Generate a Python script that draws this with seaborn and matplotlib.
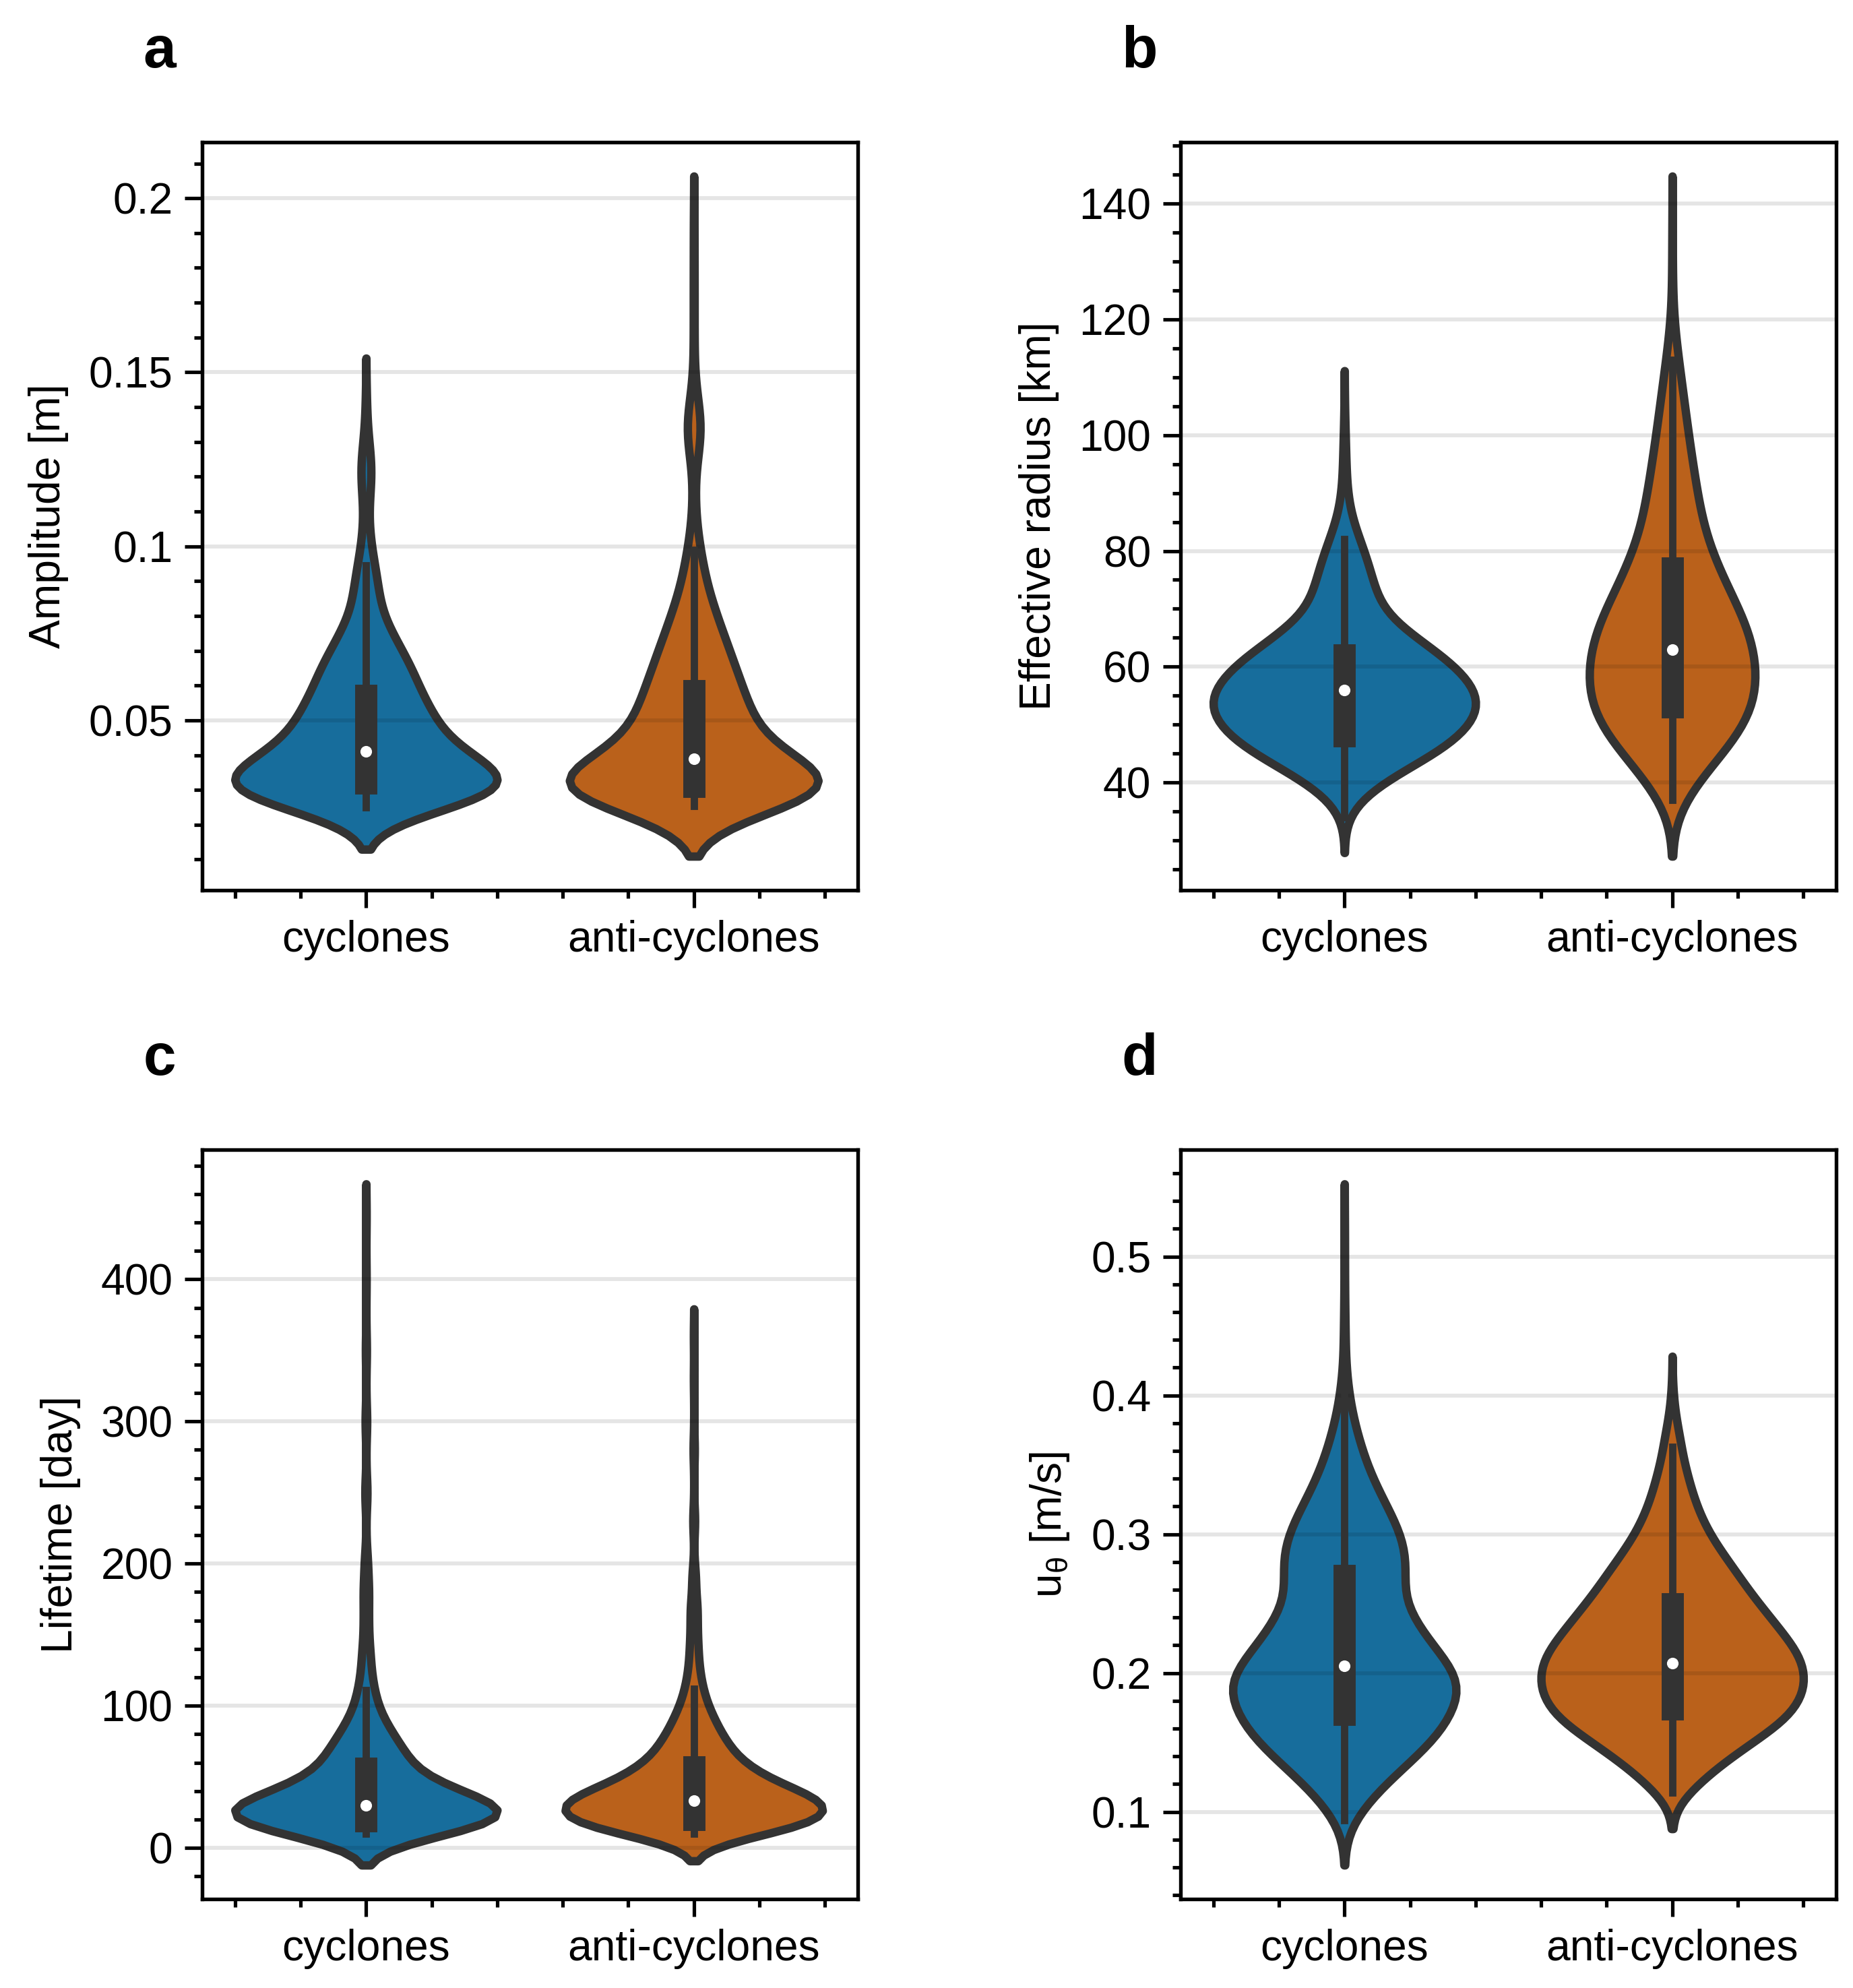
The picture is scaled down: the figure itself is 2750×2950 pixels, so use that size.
import numpy as np
import pandas as pd
import matplotlib
matplotlib.use("Agg")
import matplotlib.pyplot as plt
from matplotlib.ticker import MultipleLocator, FuncFormatter
import seaborn as sns

kinds = ["cyclones", "anti-cyclones"]
colors = ["#0173B2", "#D55E00"]

# amplitude [m]: binned values and number of eddies per bin
amp_cyc_values = [0.025, 0.0275, 0.030, 0.032, 0.034, 0.0365, 0.039, 0.041, 0.0435, 0.046, 0.0485, 0.051,
                  0.0535, 0.0555, 0.0572, 0.060, 0.0625, 0.065, 0.0675, 0.070, 0.0725, 0.075, 0.0775, 0.080,
                  0.085, 0.090, 0.0945, 0.100, 0.105, 0.110, 0.115, 0.120, 0.125, 0.130, 0.136, 0.142]
amp_cyc_counts = [60, 80, 85, 75, 68, 66, 55, 45, 42, 40, 38, 36,
                  33, 26, 20, 30, 28, 25, 22, 19, 16, 14, 12, 10,
                  15, 12, 9, 6, 3, 2, 4, 7, 6, 3, 1, 1]
amp_anti_values = [0.0253, 0.0275, 0.0295, 0.031, 0.033, 0.035, 0.037, 0.039, 0.0415, 0.044, 0.0465, 0.049,
                   0.0515, 0.054, 0.0565, 0.0585, 0.061, 0.0635, 0.066, 0.0685, 0.071, 0.0735, 0.076, 0.0785,
                   0.081, 0.0835, 0.086, 0.090, 0.095, 0.099, 0.105, 0.110, 0.115, 0.120, 0.127, 0.131,
                   0.135, 0.139, 0.143, 0.150, 0.160, 0.170, 0.180, 0.192]
amp_anti_counts = [65, 85, 90, 60, 70, 60, 50, 45, 40, 37, 35, 33,
                   31, 29, 28, 24, 25, 23, 22, 21, 19, 17, 15, 13,
                   12, 11, 9, 12, 9, 7, 3, 2, 1, 1, 4, 8,
                   9, 6, 2, 1, 1, 1, 1, 1]

# effective radius [km]
rad_cyc_values = [34, 36, 38, 40, 42, 44, 46, 48, 50, 52, 54, 56, 58, 60, 62, 64, 66, 68,
                  70, 72, 74, 76, 78, 80, 82, 84, 86, 88, 90, 92, 94, 96, 98, 100, 102, 105]
rad_cyc_counts = [5, 15, 35, 65, 100, 140, 180, 200, 222, 235, 238, 230, 215, 195, 170, 140, 108, 82,
                  64, 56, 52, 47, 41, 35, 27, 18, 12, 8, 5, 4, 3, 3, 2, 2, 1, 1]
rad_anti_values = [37, 39, 41, 43, 45, 47, 49, 51, 53, 55, 57, 59, 61, 63, 65, 67, 69, 71, 73, 75,
                   77, 79, 81, 83, 85, 87, 89, 91, 93, 95, 97, 99, 101, 103, 105, 107, 109, 111, 113, 115,
                   117, 120, 124, 128, 132, 135]
rad_anti_counts = [25, 35, 50, 70, 90, 110, 128, 140, 148, 152, 152, 152, 150, 147, 143, 135, 126, 113, 102, 92,
                   82, 73, 64, 58, 53, 49, 46, 43, 40, 37, 33, 30, 28, 25, 22, 20, 17, 14, 11, 9,
                   7, 3, 2, 1, 1, 1]

# lifetime [day]
life_cyc_values = [10, 14, 19, 24, 30, 35, 40, 45, 50, 56, 62, 68, 75, 82, 90, 100, 111, 125, 140,
                   160, 180, 200, 250, 300, 350, 400, 445]
life_cyc_counts = [70, 85, 100, 130, 125, 70, 60, 50, 40, 35, 38, 34, 31, 25, 22, 16, 14, 10, 9,
                   7, 8, 5, 4, 3, 2, 1, 1]
life_anti_values = [10, 15, 20, 26, 33, 38, 43, 48, 53, 57, 63, 70, 77, 85, 93, 102, 112, 125, 140,
                    155, 170, 190, 230, 280, 330, 360]
life_anti_counts = [65, 85, 105, 120, 130, 70, 60, 50, 40, 35, 38, 36, 31, 26, 22, 16, 14, 11, 9,
                    7, 8, 5, 3, 2, 1, 1]

# rotational velocity [m/s]
vel_cyc_values = [0.094, 0.10, 0.11, 0.12, 0.13, 0.14, 0.15, 0.16, 0.17, 0.18, 0.19, 0.197, 0.205, 0.213,
                  0.22, 0.23, 0.24, 0.25, 0.26, 0.27, 0.28, 0.29, 0.30, 0.31, 0.32, 0.33, 0.34, 0.35,
                  0.36, 0.37, 0.38, 0.39, 0.40, 0.41, 0.418, 0.44, 0.46, 0.48, 0.50, 0.52]
vel_cyc_counts = [8, 25, 48, 72, 102, 132, 162, 185, 198, 203, 204, 150, 160, 130,
                  130, 150, 122, 107, 98, 116, 117, 112, 104, 96, 74, 66, 50, 40,
                  33, 25, 18, 12, 8, 5, 3, 4, 2, 1, 1, 1]
vel_anti_values = [0.114, 0.12, 0.13, 0.14, 0.15, 0.16, 0.167, 0.174, 0.182, 0.19, 0.199, 0.207, 0.215,
                   0.223, 0.232, 0.241, 0.25, 0.26, 0.27, 0.28, 0.29, 0.30, 0.31, 0.32, 0.33, 0.34,
                   0.35, 0.363, 0.37, 0.38, 0.39, 0.402]
vel_anti_counts = [20, 40, 70, 105, 145, 153, 140, 161, 186, 204, 202, 186, 176,
                   177, 171, 153, 144, 135, 118, 100, 82, 65, 53, 43, 35, 28,
                   25, 17, 11, 8, 4, 2]

sns.set_theme(style="ticks")
plt.rcParams["font.family"] = ["Liberation Sans", "DejaVu Sans"]
plt.rcParams["axes.linewidth"] = 1.3
plt.rcParams["axes.edgecolor"] = "black"
plt.rcParams["text.color"] = "black"
plt.rcParams["axes.labelcolor"] = "black"
plt.rcParams["xtick.color"] = "black"
plt.rcParams["ytick.color"] = "black"

LW = 3.0
FS = 15.4


def make_df(cyc_values, cyc_counts, anti_values, anti_counts):
    cyc = np.repeat(cyc_values, cyc_counts)
    anti = np.repeat(anti_values, anti_counts)
    return pd.DataFrame({"kind": [kinds[0]] * len(cyc) + [kinds[1]] * len(anti),
                         "value": np.concatenate([cyc, anti])})


def violin_panel(ax, df, bw, ylabel, major, minor, letter):
    sns.violinplot(data=df, x="kind", y="value", hue="kind", order=kinds, hue_order=kinds,
                   palette=colors, saturation=0.75, inner=None, bw_adjust=bw, cut=2,
                   density_norm="area", common_norm=True, width=0.8, linewidth=LW,
                   linecolor=".2", legend=False, ax=ax)
    # box, whiskers and median like the classic seaborn inner box
    for i, k in enumerate(kinds):
        obs = df.loc[df["kind"] == k, "value"].to_numpy()
        q1, med, q3 = np.percentile(obs, [25, 50, 75])
        iqr = q3 - q1
        lo = obs[obs >= q1 - 1.5 * iqr].min()
        hi = obs[obs <= q3 + 1.5 * iqr].max()
        ax.plot([i, i], [lo, hi], lw=2.6, color=".2", solid_capstyle="projecting")
        ax.plot([i, i], [q1, q3], lw=7.9, color=".2", solid_capstyle="projecting")
        ax.scatter(i, med, s=17, color="white", linewidths=0, zorder=3)

    ax.set_xlabel("")
    ax.set_ylabel(ylabel, fontsize=FS, labelpad=7)
    ax.set_xlim(-0.5, 1.5)
    ax.yaxis.set_major_locator(MultipleLocator(major))
    ax.yaxis.set_minor_locator(MultipleLocator(minor))
    ax.yaxis.set_major_formatter(FuncFormatter(lambda v, p: f"{v:g}"))
    ax.xaxis.set_minor_locator(MultipleLocator(0.2))
    ax.grid(axis="y", which="major", color="black", alpha=0.1, lw=1.4)
    ax.set_axisbelow("line")
    ax.tick_params(which="major", length=6.2, width=1.25, labelsize=FS, pad=4.3)
    ax.tick_params(which="minor", length=2.9, width=1.25)
    for s in ax.spines.values():
        s.set_visible(True)
        s.set_linewidth(1.3)
    ax.text(-0.09, 1.1, letter, transform=ax.transAxes, fontsize=21, fontweight="bold",
            ha="left", va="baseline")


fig = plt.figure(figsize=(2750 / 300, 2950 / 300), dpi=300)
ax_a = fig.add_axes([0.1091, 0.5522, 0.3538, 0.3763])
ax_b = fig.add_axes([0.6371, 0.5522, 0.3538, 0.3763])
ax_c = fig.add_axes([0.1091, 0.0447, 0.3538, 0.3769])
ax_d = fig.add_axes([0.6371, 0.0447, 0.3538, 0.3769])

violin_panel(ax_a, make_df(amp_cyc_values, amp_cyc_counts, amp_anti_values, amp_anti_counts),
             1.15, "Amplitude [m]", 0.05, 0.01, "a")
violin_panel(ax_b, make_df(rad_cyc_values, rad_cyc_counts, rad_anti_values, rad_anti_counts),
             1.4, "Effective radius [km]", 20, 5, "b")
violin_panel(ax_c, make_df(life_cyc_values, life_cyc_counts, life_anti_values, life_anti_counts),
             1.0, "Lifetime [day]", 100, 20, "c")
violin_panel(ax_d, make_df(vel_cyc_values, vel_cyc_counts, vel_anti_values, vel_anti_counts),
             1.2, r"$\mathregular{u_\theta}$ [m/s]", 0.1, 0.02, "d")

fig.savefig("out.png", dpi=300)
